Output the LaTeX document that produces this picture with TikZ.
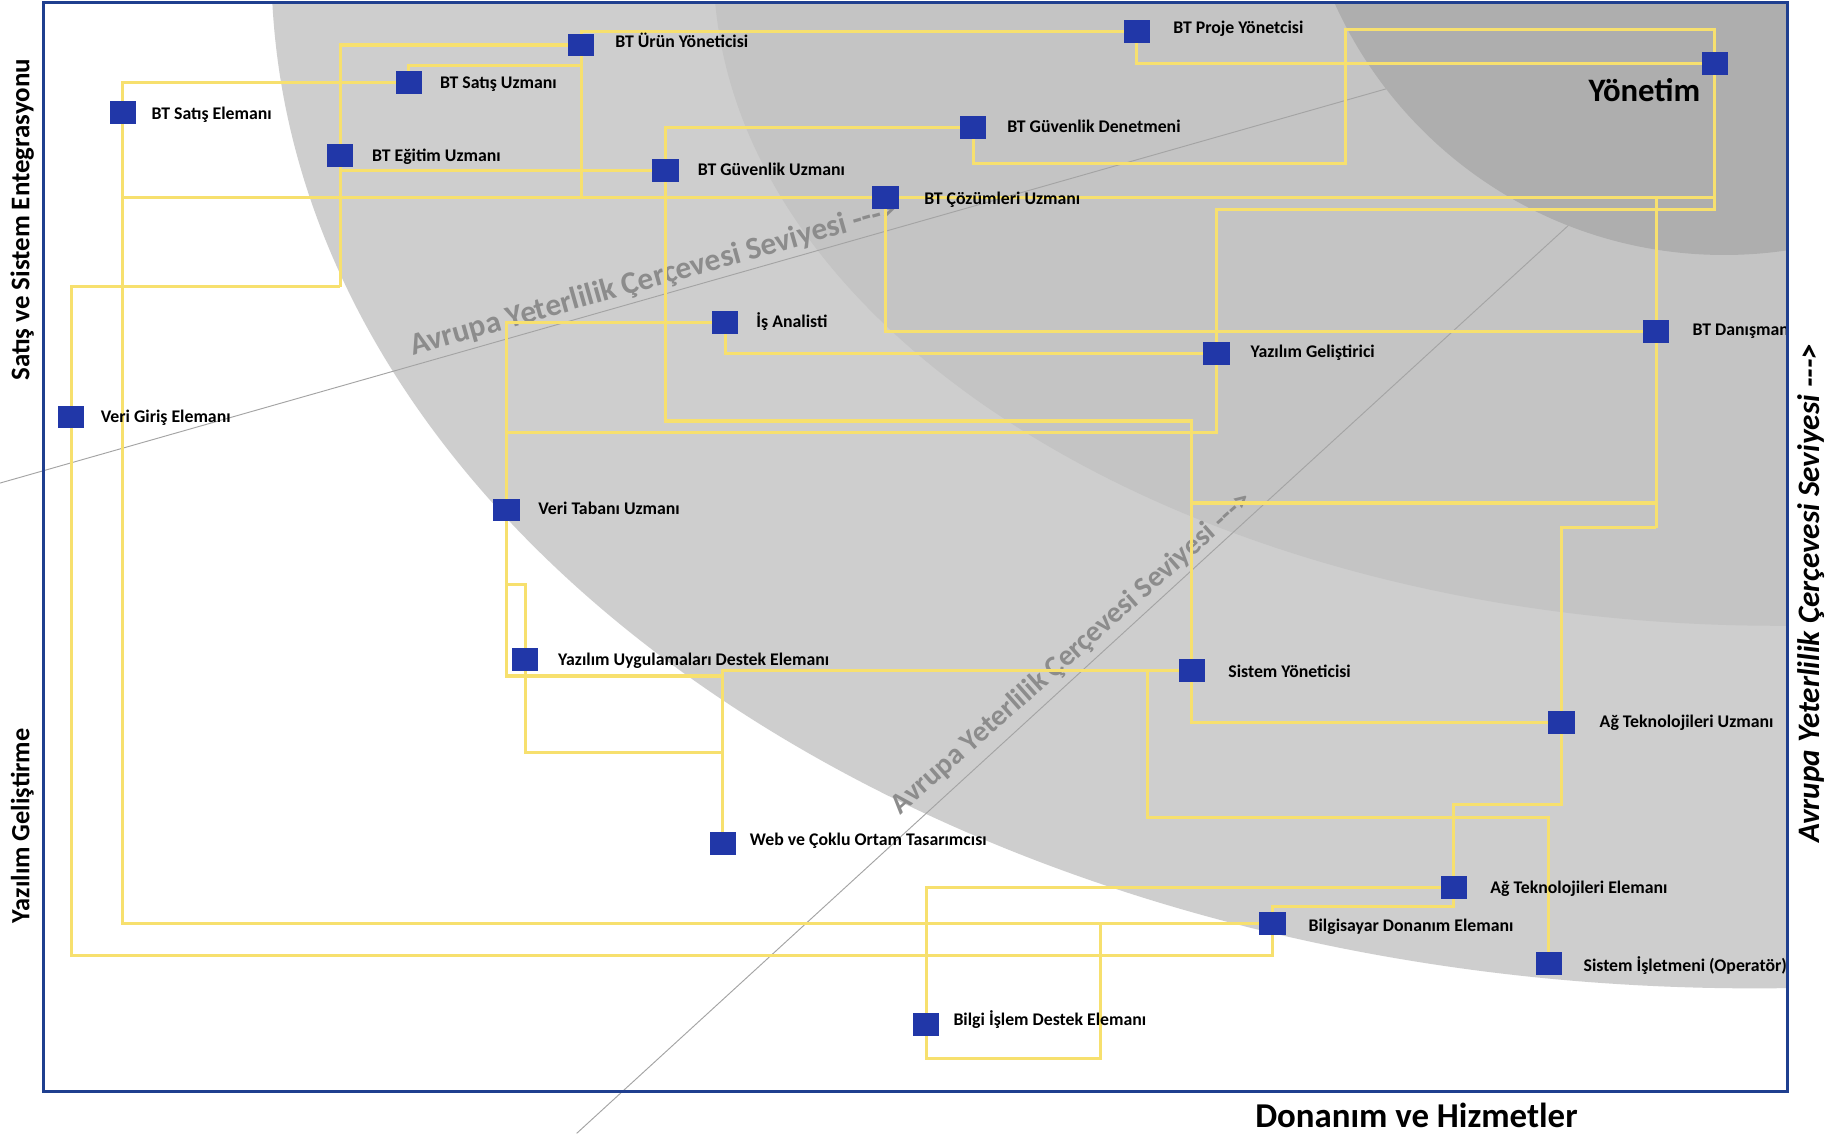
\documentclass[tikz,border=0pt]{standalone}
\usepackage{fontspec}
\setmainfont{Carlito}
\definecolor{sqblue}{HTML}{2137A8}
\definecolor{frameblue}{HTML}{1F3F8F}
\definecolor{ylw}{HTML}{F7E06E}
\definecolor{gouter}{HTML}{CECECE}
\definecolor{gmid}{HTML}{C4C4C4}
\definecolor{ginner}{HTML}{AEAEAE}
\definecolor{wmgray}{HTML}{8C8C8C}
\definecolor{thingray}{HTML}{A4A4A4}
\newcommand{\arrowtxt}{-{}-{}->}
\begin{document}
\begin{tikzpicture}[x=1pt,y=-1pt,
  sq/.style={fill=sqblue, minimum width=22pt, minimum height=19pt, inner sep=0pt},
  lbl/.style={font=\bfseries\fontsize{15.2}{17}\selectfont, anchor=base west, inner sep=0pt},
  conn/.style={draw=ylw, line width=2.7pt},
  wm/.style={font=\bfseries\fontsize{26.8}{28}\selectfont, text=wmgray, anchor=base west, inner sep=0pt},
  thinline/.style={draw=thingray, line width=0.8pt},
  axis/.style={font=\bfseries\fontsize{23}{24}\selectfont, inner sep=0pt}]
\useasboundingbox (0,0) rectangle (1568,969);
\fill[white] (0,0) rectangle (1568,969);
% background zones
\begin{scope}
  \clip (37,2) rectangle (1528,933);
  \fill[gouter] (1500,-30) ellipse [x radius=1268pt, y radius=875pt];
  \fill[gmid] (1520,-30) ellipse [x radius=910pt, y radius=565pt];
\end{scope}
\coordinate (t1a) at (0,413);
\coordinate (t1b) at (1185,76);
\coordinate (t2a) at (493,969);
\coordinate (t2b) at (1345,189);
\draw[thinline] (t1a) -- (t1b);
\draw[thinline] (t2a) -- (t2b);
\begin{scope}
  \clip (37,2) rectangle (1528,933);
  \fill[ginner] (1474,-147) circle [radius=365pt];
\end{scope}
% watermarks
\node[wm, rotate=15.8] (wm1) at (353,304) {Avrupa Yeterlilik Çerçevesi Seviyesi \arrowtxt};
\node[wm, rotate=41.5, font=\bfseries\fontsize{25}{26}\selectfont] (wm2) at (770,697) {Avrupa Yeterlilik Çerçevesi Seviyesi \arrowtxt};
% nodes
\node[sq] (ur) at (497,38.5) {};
\node[sq] (proje) at (972,27) {};
\node[sq] (yon) at (1466,54) {};
\node[sq] (su) at (349.5,70.5) {};
\node[sq] (se) at (105,96) {};
\node[sq] (gd) at (832,109) {};
\node[sq] (eu) at (291,133) {};
\node[sq] (gu) at (569,146) {};
\node[sq] (cu) at (757,169) {};
\node[sq] (ia) at (620,276) {};
\node[sq] (dan) at (1416,283.5) {};
\node[sq] (yg) at (1040,302) {};
\node[sq] (vg) at (61,356.5) {};
\node[sq] (vt) at (433,436) {};
\node[sq] (yu) at (449,564) {};
\node[sq] (sy) at (1019,573.5) {};
\node[sq] (atu) at (1335,617.5) {};
\node[sq] (web) at (618,721) {};
\node[sq] (ate) at (1243,758.5) {};
\node[sq] (bd) at (1088,789.5) {};
\node[sq] (si) at (1324,824) {};
\node[sq] (bi) at (792,876) {};
% junctions
\coordinate (jA) at (497,56);
\coordinate (jB) at (497,169);
\coordinate (jSE169) at (105,169);
\coordinate (jYon169) at (1466,169);
\coordinate (jYon179) at (1466,179);
\coordinate (jGD) at (1150,140);
\coordinate (jGD2) at (1466,25);
\coordinate (jDan169) at (1416,169);
\coordinate (jDan451) at (1416,451);
\coordinate (jDan430) at (1416,430);
\coordinate (jSY430) at (1019,430);
\coordinate (jGU360) at (569,360);
\coordinate (jVT370) at (433,370);
\coordinate (jVT500) at (433,500);
\coordinate (jW578) at (618,578);
\coordinate (jW643) at (618,643);
\coordinate (jSY981) at (981,573.5);
\coordinate (jSY699) at (981,699);
\coordinate (jATU688) at (1243,688);
\coordinate (jATE775) at (1088,775);
\coordinate (jBI905) at (941,905);
\coordinate (jBI789) at (941,789.5);
\coordinate (jBD817) at (1088,817);
\coordinate (jEU245) at (291,245);
\coordinate (jEU146) at (291,146);
% connectors
\draw[conn] (ur.north) |- (proje.west);
\draw[conn] (proje.south) |- (yon.west);
\draw[conn] (gd.south) |- (jGD) |- (jGD2) -- (yon.north);
\draw[conn] (yon.south) -- (jYon179) -| (yg.north);
\draw[conn] (jSE169) -- (cu.west);
\draw[conn] (cu.east) -- (jYon169);
\draw[conn] (jDan169) -- (dan.north);
\draw[conn] (dan.south) -- (jDan451);
\draw[conn] (cu.south) |- (dan.west);
\draw[conn] (se.north) |- (su.west);
\draw[conn] (su.north) |- (jA);
\draw[conn] (ur.south) -- (jB);
\draw[conn] (eu.north) |- (ur.west);
\draw[conn] (jEU146) -- (gu.west);
\draw[conn] (eu.south) -- (jEU245);
\draw[conn] (vg.north) |- (jEU245);
\draw[conn] (gu.north) |- (gd.west);
\draw[conn] (gu.south) -- (jGU360) -| (sy.north);
\draw[conn] (jSY430) -- (jDan430);
\draw[conn] (ia.west) -| (vt.north);
\draw[conn] (ia.south) |- (yg.west);
\draw[conn] (yg.south) |- (jVT370);
\draw[conn] (vt.south) |- (jW578);
\draw[conn] (jVT500) -| (yu.north);
\draw[conn] (yu.south) |- (jW643);
\draw[conn] (web.north) |- (sy.west);
\draw[conn] (jSY981) -- (jSY699) -| (si.north);
\draw[conn] (sy.south) |- (atu.west);
\draw[conn] (atu.north) |- (jDan451);
\draw[conn] (atu.south) |- (jATU688) -- (ate.north);
\draw[conn] (ate.south) |- (jATE775) -- (bd.north);
\draw[conn] (ate.west) -| (bi.north);
\draw[conn] (bi.south) |- (jBI905) -- (jBI789);
\draw[conn] (se.south) |- (bd.west);
\draw[conn] (vg.south) |- (jBD817) -- (bd.south);
% squares on top of the connectors
\foreach \n in {ur,proje,yon,su,se,gd,eu,gu,cu,ia,dan,yg,vg,vt,yu,sy,atu,web,ate,bd,si,bi}
  \fill[sqblue] (\n.south west) rectangle (\n.north east);
% labels
\node[lbl] (l-ur) at (526,40.6) {BT Ürün Yöneticisi};
\node[lbl] (l-proje) at (1003,29) {BT Proje Yönetcisi};
\node[lbl] (l-gd) at (861,113) {BT Güvenlik Denetmeni};
\node[lbl] (l-gu) at (596.5,150) {BT Güvenlik Uzmanı};
\node[lbl] (l-cu) at (790,175) {BT Çözümleri Uzmanı};
\node[lbl] (l-ia) at (646.5,280) {İş Analisti};
\node[lbl] (l-dan) at (1447,287) {BT Danışmanı};
\node[lbl] (l-yg) at (1069,306) {Yazılım Geliştirici};
\node[lbl] (l-su) at (376,76) {BT Satış Uzmanı};
\node[lbl] (l-se) at (129.5,102) {BT Satış Elemanı};
\node[lbl] (l-eu) at (318,138) {BT Eğitim Uzmanı};
\node[lbl] (l-vg) at (86,361) {Veri Giriş Elemanı};
\node[lbl] (l-vt) at (460,440) {Veri Tabanı Uzmanı};
\node[lbl] (l-yu) at (477,569) {Yazılım Uygulamaları Destek Elemanı};
\node[lbl] (l-sy) at (1050,579) {Sistem Yöneticisi};
\node[lbl] (l-atu) at (1367.5,622) {Ağ Teknolojileri Uzmanı};
\node[lbl] (l-web) at (641,723) {Web ve Çoklu Ortam Tasarımcısı};
\node[lbl] (l-bi) at (815,877) {Bilgi İşlem Destek Elemanı};
\node[lbl] (l-ate) at (1274,764) {Ağ Teknolojileri Elemanı};
\node[lbl] (l-bd) at (1118.6,796) {Bilgisayar Donanım Elemanı};
\node[lbl] (l-si) at (1353.7,830.6) {Sistem İşletmeni (Operatör)};
\node[font=\bfseries\fontsize{28}{29}\selectfont, anchor=base west, inner sep=0pt] (l-yon) at (1358,87) {Yönetim};
% frame
\fill[white] (1528,2) rectangle (1568,933);
\draw[frameblue, line width=2.6pt] (37,2) rectangle (1528,933);
% axis titles
\node[axis, rotate=90] (ax1) at (19,188) {Satış ve Sistem Entegrasyonu};
\node[axis, rotate=90, font=\bfseries\fontsize{22.5}{24}\selectfont] (ax2) at (19,706) {Yazılım Geliştirme};
\node[axis, font=\bfseries\fontsize{29.8}{31}\selectfont] (ax3) at (1211,954) {Donanım ve Hizmetler};
\node[axis, rotate=90, font=\bfseries\itshape\fontsize{26.7}{28}\selectfont] (ax4) at (1548,507) {Avrupa Yeterlilik Çerçevesi Seviyesi \arrowtxt};
\end{tikzpicture}
\end{document}
